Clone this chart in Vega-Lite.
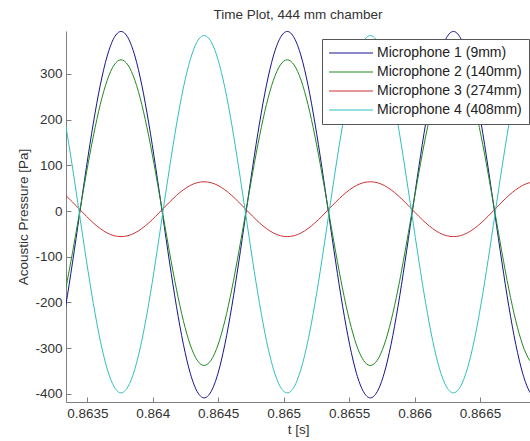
{
  "$schema": "https://vega.github.io/schema/vega-lite/v6.json",
  "width": 464,
  "height": 371,
  "autosize": "none",
  "padding": {"left": 66, "top": 31, "right": 0, "bottom": 39},
  "background": "white",
  "title": {"text": "Time Plot, 444 mm chamber", "fontSize": 13.5, "fontWeight": "normal", "font": "Liberation Sans", "color": "#333333", "offset": 10, "anchor": "middle"},
  "config": {
    "view": {"stroke": null},
    "axis": {"grid": false, "domainColor": "#7f7f7f", "tickColor": "#7f7f7f", "tickSize": -5, "labelFont": "Liberation Sans", "labelFontSize": 13.5, "labelColor": "#333333", "titleFont": "Liberation Sans", "titleFontSize": 13.5, "titleFontWeight": "normal", "titleColor": "#333333"}
  },
  "data": {"values": [
    {"t":0.8632817,"m1":-291.5,"m2":-240,"m3":46.4,"m4":269.5},
    {"t":0.8633346,"m1":-208.5,"m2":-170.8,"m3":34,"m4":188.5},
    {"t":0.8633875,"m1":-111.8,"m2":-90.1,"m3":19.5,"m4":94.2},
    {"t":0.8634404,"m1":-8,"m2":-3.5,"m3":4,"m4":-7},
    {"t":0.8634933,"m1":95.8,"m2":83.1,"m3":-11.5,"m4":-108.2},
    {"t":0.8635462,"m1":192.5,"m2":163.8,"m3":-26,"m4":-202.5},
    {"t":0.8635991,"m1":275.5,"m2":233,"m3":-38.4,"m4":-283.5},
    {"t":0.863652,"m1":339.3,"m2":286.2,"m3":-48,"m4":-345.6},
    {"t":0.8637049,"m1":379.3,"m2":319.6,"m3":-54,"m4":-384.7},
    {"t":0.8637578,"m1":393,"m2":331,"m3":-56,"m4":-398},
    {"t":0.8638107,"m1":379.3,"m2":319.6,"m3":-54,"m4":-384.7},
    {"t":0.8638636,"m1":339.3,"m2":286.2,"m3":-48,"m4":-345.6},
    {"t":0.8639165,"m1":275.5,"m2":233,"m3":-38.4,"m4":-283.5},
    {"t":0.8639694,"m1":192.5,"m2":163.8,"m3":-26,"m4":-202.5},
    {"t":0.8640223,"m1":95.8,"m2":83.1,"m3":-11.5,"m4":-108.2},
    {"t":0.8640752,"m1":-8,"m2":-3.5,"m3":4,"m4":-7},
    {"t":0.8641281,"m1":-111.8,"m2":-90.1,"m3":19.5,"m4":94.2},
    {"t":0.864181,"m1":-208.5,"m2":-170.8,"m3":34,"m4":188.5},
    {"t":0.8642339,"m1":-291.5,"m2":-240,"m3":46.4,"m4":269.5},
    {"t":0.8642868,"m1":-355.3,"m2":-293.2,"m3":56,"m4":331.6},
    {"t":0.8643397,"m1":-395.3,"m2":-326.6,"m3":62,"m4":370.7},
    {"t":0.8643926,"m1":-409,"m2":-338,"m3":64,"m4":384},
    {"t":0.8644455,"m1":-395.3,"m2":-326.6,"m3":62,"m4":370.7},
    {"t":0.8644984,"m1":-355.3,"m2":-293.2,"m3":56,"m4":331.6},
    {"t":0.8645513,"m1":-291.5,"m2":-240,"m3":46.4,"m4":269.5},
    {"t":0.8646042,"m1":-208.5,"m2":-170.8,"m3":34,"m4":188.5},
    {"t":0.8646571,"m1":-111.8,"m2":-90.1,"m3":19.5,"m4":94.2},
    {"t":0.86471,"m1":-8,"m2":-3.5,"m3":4,"m4":-7},
    {"t":0.8647629,"m1":95.8,"m2":83.1,"m3":-11.5,"m4":-108.2},
    {"t":0.8648158,"m1":192.5,"m2":163.8,"m3":-26,"m4":-202.5},
    {"t":0.8648687,"m1":275.5,"m2":233,"m3":-38.4,"m4":-283.5},
    {"t":0.8649216,"m1":339.3,"m2":286.2,"m3":-48,"m4":-345.6},
    {"t":0.8649745,"m1":379.3,"m2":319.6,"m3":-54,"m4":-384.7},
    {"t":0.8650274,"m1":393,"m2":331,"m3":-56,"m4":-398},
    {"t":0.8650803,"m1":379.3,"m2":319.6,"m3":-54,"m4":-384.7},
    {"t":0.8651332,"m1":339.3,"m2":286.2,"m3":-48,"m4":-345.6},
    {"t":0.8651861,"m1":275.5,"m2":233,"m3":-38.4,"m4":-283.5},
    {"t":0.865239,"m1":192.5,"m2":163.8,"m3":-26,"m4":-202.5},
    {"t":0.8652919,"m1":95.8,"m2":83.1,"m3":-11.5,"m4":-108.2},
    {"t":0.8653448,"m1":-8,"m2":-3.5,"m3":4,"m4":-7},
    {"t":0.8653977,"m1":-111.8,"m2":-90.1,"m3":19.5,"m4":94.2},
    {"t":0.8654506,"m1":-208.5,"m2":-170.8,"m3":34,"m4":188.5},
    {"t":0.8655035,"m1":-291.5,"m2":-240,"m3":46.4,"m4":269.5},
    {"t":0.8655564,"m1":-355.3,"m2":-293.2,"m3":56,"m4":331.6},
    {"t":0.8656093,"m1":-395.3,"m2":-326.6,"m3":62,"m4":370.7},
    {"t":0.8656622,"m1":-409,"m2":-338,"m3":64,"m4":384},
    {"t":0.8657151,"m1":-395.3,"m2":-326.6,"m3":62,"m4":370.7},
    {"t":0.865768,"m1":-355.3,"m2":-293.2,"m3":56,"m4":331.6},
    {"t":0.8658209,"m1":-291.5,"m2":-240,"m3":46.4,"m4":269.5},
    {"t":0.8658738,"m1":-208.5,"m2":-170.8,"m3":34,"m4":188.5},
    {"t":0.8659267,"m1":-111.8,"m2":-90.1,"m3":19.5,"m4":94.2},
    {"t":0.8659796,"m1":-8,"m2":-3.5,"m3":4,"m4":-7},
    {"t":0.8660325,"m1":95.8,"m2":83.1,"m3":-11.5,"m4":-108.2},
    {"t":0.8660854,"m1":192.5,"m2":163.8,"m3":-26,"m4":-202.5},
    {"t":0.8661383,"m1":275.5,"m2":233,"m3":-38.4,"m4":-283.5},
    {"t":0.8661912,"m1":339.3,"m2":286.2,"m3":-48,"m4":-345.6},
    {"t":0.8662441,"m1":379.3,"m2":319.6,"m3":-54,"m4":-384.7},
    {"t":0.866297,"m1":393,"m2":331,"m3":-56,"m4":-398},
    {"t":0.8663499,"m1":379.3,"m2":319.6,"m3":-54,"m4":-384.7},
    {"t":0.8664028,"m1":339.3,"m2":286.2,"m3":-48,"m4":-345.6},
    {"t":0.8664557,"m1":275.5,"m2":233,"m3":-38.4,"m4":-283.5},
    {"t":0.8665086,"m1":192.5,"m2":163.8,"m3":-26,"m4":-202.5},
    {"t":0.8665615,"m1":95.8,"m2":83.1,"m3":-11.5,"m4":-108.2},
    {"t":0.8666144,"m1":-8,"m2":-3.5,"m3":4,"m4":-7},
    {"t":0.8666673,"m1":-111.8,"m2":-90.1,"m3":19.5,"m4":94.2},
    {"t":0.8667202,"m1":-208.5,"m2":-170.8,"m3":34,"m4":188.5},
    {"t":0.8667731,"m1":-291.5,"m2":-240,"m3":46.4,"m4":269.5},
    {"t":0.866826,"m1":-355.3,"m2":-293.2,"m3":56,"m4":331.6},
    {"t":0.8668789,"m1":-395.3,"m2":-326.6,"m3":62,"m4":370.7},
    {"t":0.8669318,"m1":-409,"m2":-338,"m3":64,"m4":384}
  ]},
  "transform": [{"fold": ["m1", "m2", "m3", "m4"], "as": ["mic", "p"]}],
  "mark": {"type": "line", "strokeWidth": 1, "clip": true, "interpolate": "monotone"},
  "encoding": {
    "x": {"field": "t", "type": "quantitative", "title": "t [s]",
      "scale": {"domain": [0.8633373, 0.866882], "nice": false, "zero": false},
      "axis": {"values": [0.8635, 0.864, 0.8645, 0.865, 0.8655, 0.866, 0.8665], "format": ".4~f", "labelPadding": 9, "titlePadding": 3}},
    "y": {"field": "p", "type": "quantitative", "title": "Acoustic Pressure [Pa]",
      "scale": {"domain": [-418, 394], "nice": false, "zero": false},
      "axis": {"values": [-400, -300, -200, -100, 0, 100, 200, 300], "labelExpr": "'' + datum.value", "labelPadding": 9, "titlePadding": 4}},
    "color": {"field": "mic", "type": "nominal",
      "scale": {"domain": ["m1", "m2", "m3", "m4"], "range": ["#14148c", "#1f8a1f", "#cc3333", "#30bfbf"]},
      "legend": {"title": null, "orient": "none", "legendX": 256, "legendY": 8, "fillColor": "white", "strokeColor": "#555555", "padding": 7, "symbolType": "M-1.4,0H7.4", "symbolSize": 100, "symbolStrokeWidth": 1, "labelFont": "Liberation Sans", "labelFontSize": 14, "labelColor": "#222222", "labelOffset": 34, "labelLimit": 0, "rowPadding": 5,
        "labelExpr": "{'m1': 'Microphone 1 (9mm)', 'm2': 'Microphone 2 (140mm)\u00a0\u00a0\u00a0', 'm3': 'Microphone 3 (274mm)', 'm4': 'Microphone 4 (408mm)'}[datum.label]"}}
  }
}
